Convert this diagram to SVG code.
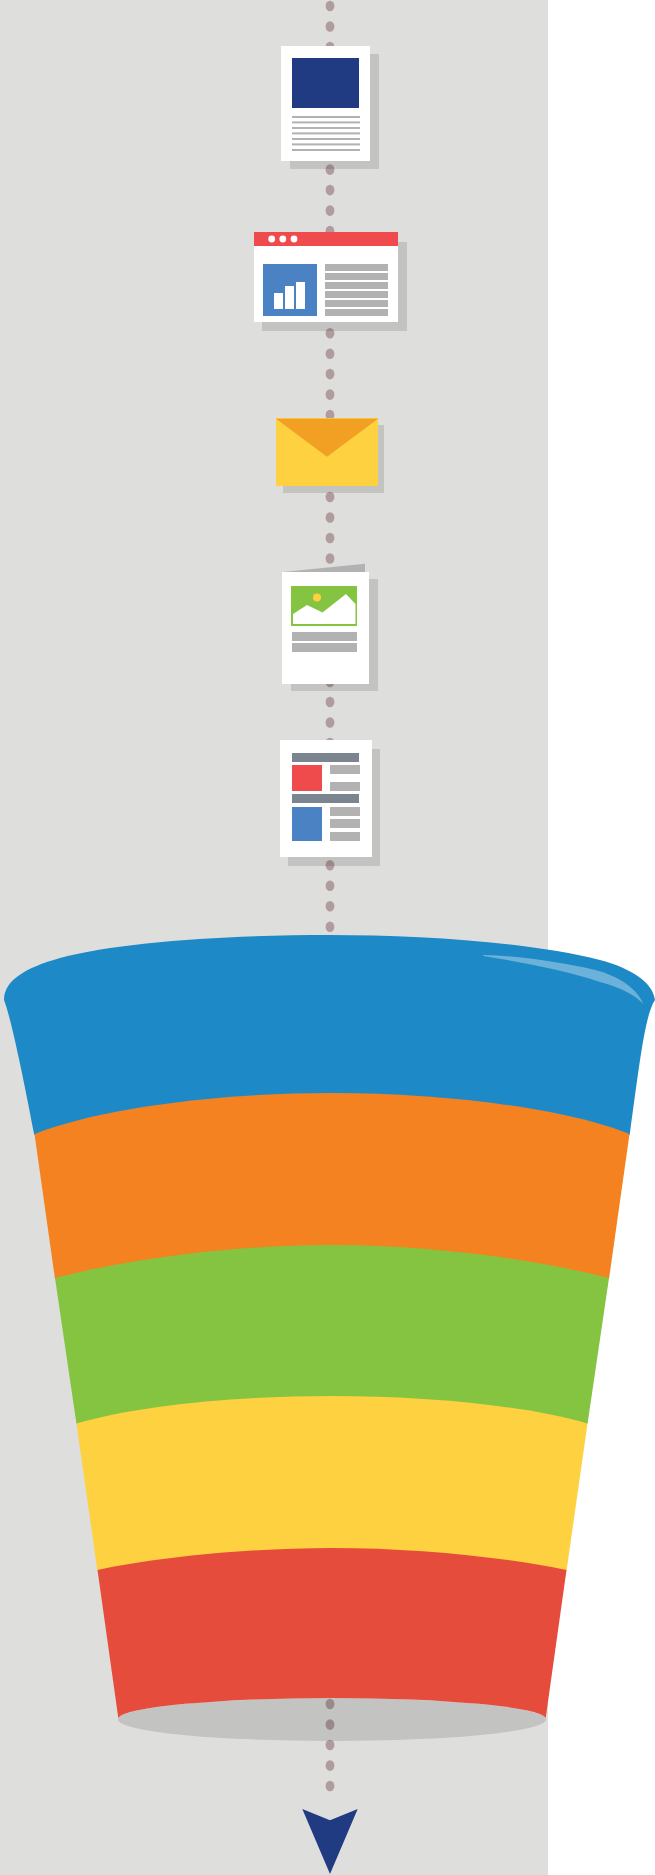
<svg xmlns="http://www.w3.org/2000/svg" width="655" height="1875" viewBox="0 0 655 1875">
<style>
.w{fill:#fff}.s{fill:#000;fill-opacity:.12}.g{fill:#b2b2b2}.d{fill:#b09c9c}.n{fill:#213b83}.b{fill:#4a82c3}.r{fill:#f04b4c}.h{fill:#7b8590}.y{fill:#fdd13f}
</style>
<defs><ellipse id="dot" class="d" cx="330" cy="0" rx="4.4" ry="5.3"/></defs>
<rect width="548" height="1875" fill="#dededc"/>
<g id="connectors">
<use href="#dot" y="6"/><use href="#dot" y="26.5"/><use href="#dot" y="47"/><use href="#dot" y="169.6"/><use href="#dot" y="190.1"/><use href="#dot" y="210.6"/><use href="#dot" y="231"/><use href="#dot" y="333.2"/><use href="#dot" y="353.7"/><use href="#dot" y="374.1"/><use href="#dot" y="394.6"/><use href="#dot" y="415"/><use href="#dot" y="497"/><use href="#dot" y="517.5"/><use href="#dot" y="538"/><use href="#dot" y="558.5"/><use href="#dot" y="682"/><use href="#dot" y="702"/><use href="#dot" y="722.5"/><use href="#dot" y="743"/><use href="#dot" y="865.3"/><use href="#dot" y="885.8"/><use href="#dot" y="906.3"/><use href="#dot" y="926.8"/><use href="#dot" y="1704"/><use href="#dot" y="1724.6"/><use href="#dot" y="1745"/><use href="#dot" y="1765.6"/><use href="#dot" y="1786"/>
<path class="n" d="M302.3 1809L330 1820.3L357.7 1809L330 1874Z"/>
</g>
<g id="node-document">
<rect class="s" x="290" y="54" width="89" height="115"/>
<rect class="w" x="281" y="46" width="89" height="115"/>
<rect class="n" x="292" y="58" width="67" height="50"/>
<g class="g"><rect x="292" y="116" width="68" height="2"/><rect x="292" y="121.4" width="68" height="2"/><rect x="292" y="127" width="68" height="2"/><rect x="292" y="132.4" width="68" height="2"/><rect x="292" y="138" width="68" height="2"/><rect x="292" y="143.4" width="68" height="2"/><rect x="292" y="149" width="68" height="2"/></g>
</g>
<g id="node-browser">
<rect class="s" x="262" y="242" width="145" height="89"/>
<rect class="w" x="254" y="232" width="144" height="90"/>
<rect class="r" x="254" y="232" width="144" height="14"/>
<g class="w"><circle cx="271.7" cy="239" r="3.4"/><circle cx="282.8" cy="239" r="3.4"/><circle cx="294" cy="239" r="3.4"/></g>
<rect class="b" x="263" y="264" width="54" height="52"/>
<g class="w"><rect x="274" y="293" width="9" height="16"/><rect x="285" y="286" width="9" height="23"/><rect x="296" y="282" width="9" height="27"/></g>
<g class="g"><rect x="325" y="264" width="63" height="7"/><rect x="325" y="273" width="63" height="7"/><rect x="325" y="282" width="63" height="7"/><rect x="325" y="291" width="63" height="7"/><rect x="325" y="300" width="63" height="7"/><rect x="325" y="309" width="63" height="7"/></g>
</g>
<g id="node-email">
<rect class="s" x="283" y="425" width="101" height="68"/>
<rect class="y" x="276" y="418" width="102" height="68"/>
<path fill="#f2a024" d="M276 418.7H378L327 456.7Z"/>
</g>
<g id="node-flyer">
<rect class="s" x="291" y="579" width="87" height="112"/>
<path class="g" d="M283 572L365 563.7V572Z"/>
<rect class="w" x="282" y="572" width="87" height="112"/>
<rect fill="#85c441" x="291" y="586" width="66" height="40"/>
<path class="w" d="M293 614L307 605L322.5 612.5L346 594L355.5 604V624H293Z"/>
<circle class="y" cx="317" cy="597.5" r="4"/>
<rect class="g" x="292" y="632" width="65" height="9"/>
<rect class="g" x="292" y="643" width="65" height="9"/>
</g>
<g id="node-newsletter">
<rect class="s" x="288" y="749" width="92" height="117"/>
<rect class="w" x="280" y="740" width="92" height="117"/>
<rect class="h" x="292" y="753" width="67" height="9"/>
<rect class="r" x="292" y="765" width="30" height="26"/>
<rect class="g" x="330" y="765" width="30" height="9"/>
<rect class="g" x="330" y="782" width="30" height="9"/>
<rect class="h" x="292" y="794" width="67" height="9"/>
<rect class="b" x="292" y="807" width="30" height="34"/>
<rect class="g" x="330" y="807" width="30" height="9"/>
<rect class="g" x="330" y="819" width="30" height="9"/>
<rect class="g" x="330" y="832" width="30" height="9"/>
</g>
<g id="node-funnel">
<ellipse class="s" cx="332" cy="1719.5" rx="214" ry="21.5"/>
<path id="band-blue" fill="#1d8ac7" d="M4 999C5 980 25 968 60 958C120 942 230 935 330 935C420 935 530 942 600 960C630 968 653 982 655 1000C645 1015 640 1060 629.7 1135H34.3C22 1070 10 1015 4 1000Z"/>
<path id="band-orange" fill="#f58220" d="M34.5 1134C100 1108 220 1093 332 1093C444 1093 564 1108 629.5 1134L609 1279H55Z"/>
<path id="band-green" fill="#85c441" d="M55 1278C125 1260 230 1245 332 1245C434 1245 539 1260 609 1278L587.5 1424H76.5Z"/>
<path id="band-yellow" class="y" d="M76.5 1423.5C140 1405 240 1396 332 1396C424 1396 524 1405 587.5 1423.5L566.5 1571H97.5Z"/>
<path id="band-red" fill="#e64c3c" d="M97.5 1570C160 1557 250 1548 332 1548C414 1548 504 1557 566.5 1570L545.7 1718A214 21 0 0 0 118.3 1718Z"/>
<path fill="#6cb1da" d="M483.3 955C520 956 560 962 595 970C620 976 638 990 643.3 1004C635 995 622 988 600 982C565 970 525 963 483.3 956Z"/>
</g>
</svg>
